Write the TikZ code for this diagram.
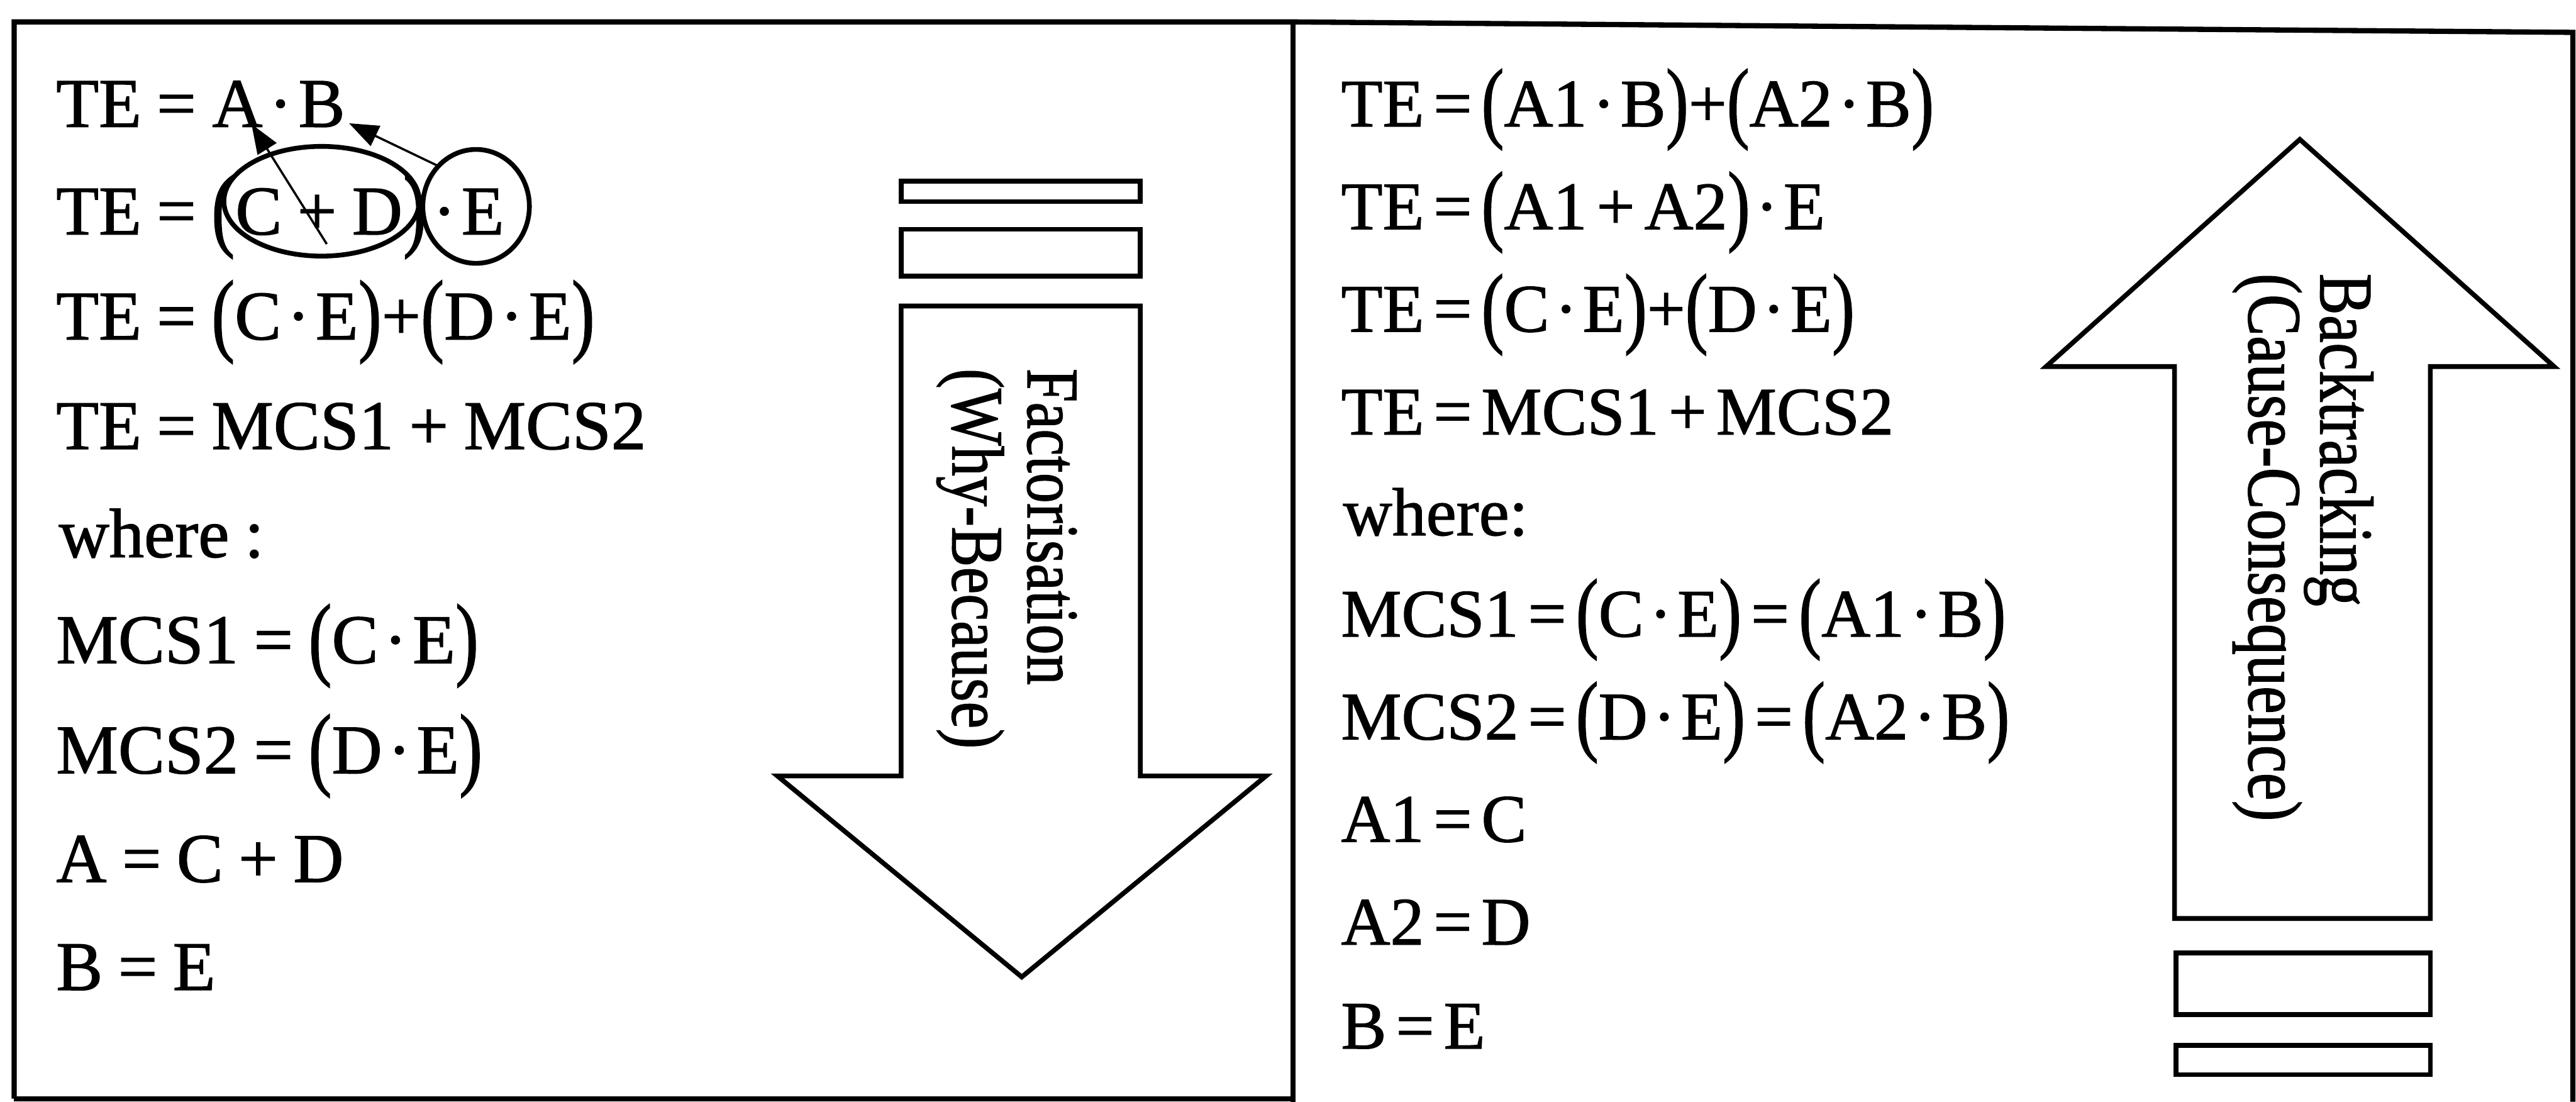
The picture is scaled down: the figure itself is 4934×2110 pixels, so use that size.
\documentclass[tikz,border=0pt]{standalone}
\usepackage{fontspec}
\setmainfont{Liberation Serif}[FakeBold=1.2]
\usepackage{graphicx}
\usetikzlibrary{arrows.meta,shapes.geometric}
\newcommand{\po}{\raisebox{-0.07em}{\scalebox{1}[1.32]{(}}}
\newcommand{\pc}{\raisebox{-0.07em}{\scalebox{1}[1.32]{)}}}
\newcommand{\md}{\kern0.08em·\kern0.08em}
\newcommand{\sq}{\kern0.22em}
\newcommand{\sr}{\kern0.14em}
\newcommand{\tall}[1]{\scalebox{1}[1.22]{#1}}
\begin{document}
\begin{tikzpicture}[x=0.01cm,y=-0.01cm,
  eqL/.style={anchor=base west,inner sep=0pt,font=\fontsize{38pt}{38pt}\selectfont},
  eqR/.style={anchor=base west,inner sep=0pt,font=\fontsize{37pt}{37pt}\selectfont},
  frame/.style={line width=2.85pt},
  bigarrow/.style={line width=2.6pt,line join=miter},
  ring/.style={line width=2.6pt},
  ptr/.style={line width=1.2pt,-{Triangle[length=16pt,width=12pt]}},
  lbl/.style={inner sep=0pt,rotate=-90,anchor=west,align=left}]
\useasboundingbox (0,0) rectangle (4934,2110);
% frame
\draw[frame] (27,2104) -- (27,42) -- (2477,42) -- (4928,62) -- (4928,2110);
\draw[frame] (2477,42) -- (2477,2110);
\draw[frame] (27,2104) -- (2477,2104);
% left panel equations
\node[eqL] (l1a) at (107,243) {TE\sq=\sq};
\node[eqL] (nA) at (l1a.base east) {A};
\node[eqL] (l1b) at (nA.base east) {\md};
\node[eqL] (nB) at (l1b.base east) {B};
\node[eqL] (l2a) at (107,449) {TE\sq=\sq\po};
\node[eqL] (nCD) at (l2a.base east) {C\sq+\sq D};
\node[eqL] (l2c) at (nCD.base east) {\pc};
\node[eqL] (nE) at (l2c.base east) {\md E};
\node[eqL] (l3) at (107,650) {TE\sq=\sq\po C\md E\pc+\po D\md E\pc};
\node[eqL] (l4) at (107,860) {TE\sq=\sq MCS1\sq+\sq MCS2};
\node[eqL] (l5) at (112,1067) {where\sq:};
\node[eqL] (l6) at (107,1270) {MCS1\sq=\sq\po C\md E\pc};
\node[eqL] (l7) at (107,1481) {MCS2\sq=\sq\po D\md E\pc};
\node[eqL] (l8) at (107,1689) {A\sq=\sq C\sq+\sq D};
\node[eqL] (l9) at (107,1896) {B\sq=\sq E};
% rings and pointers
\coordinate (cCD) at ([xshift=0.05cm,yshift=0.2cm]nCD.center);
\coordinate (cE) at ([xshift=0.2cm,yshift=0.1cm]nE.center);
\draw[ring] (cCD) ellipse [x radius=1.87cm,y radius=1.05cm];
\draw[ring] (cE) ellipse [x radius=1.02cm,y radius=1.09cm];
\draw[ptr] ([xshift=0.15cm,yshift=-0.62cm]nCD.center) -- ([xshift=-0.22cm,yshift=0.06cm]nA.south east);
\draw[ptr] ([xshift=-0.72cm,yshift=0.77cm]cE) -- ([xshift=0.07cm,yshift=0.08cm]nB.south east);
% left down arrow
\draw[bigarrow] (1726,347) rectangle (2184,386);
\draw[bigarrow] (1726,439) rectangle (2184,529);
\draw[bigarrow] (1726,586) -- (2184,586) -- (2184,1486) -- (2425,1486) -- (1957,1871) -- (1489,1486) -- (1726,1486) -- cycle;
\node[lbl,font=\fontsize{33pt}{41pt}\selectfont] (fact) at (1928,705) {\tall{Factorisation}\\\tall{(Why-Because)}};
% right panel equations
\node[eqR] (r1) at (2568,242) {TE\sr=\sr\po A1\md B\pc+\po A2\md B\pc};
\node[eqR] (r2) at (2568,439) {TE\sr=\sr\po A1\sr+\sr A2\pc\md E};
\node[eqR] (r3) at (2568,635) {TE\sr=\sr\po C\md E\pc+\po D\md E\pc};
\node[eqR] (r4) at (2568,832) {TE\sr=\sr MCS1\sr+\sr MCS2};
\node[eqR] (r5) at (2572,1025) {where:};
\node[eqR] (r6) at (2568,1219) {MCS1\sr=\sr\po C\md E\pc\sr=\sr\po A1\md B\pc};
\node[eqR] (r7) at (2568,1416) {MCS2\sr=\sr\po D\md E\pc\sr=\sr\po A2\md B\pc};
\node[eqR] (r8) at (2568,1612) {A1\sr=\sr C};
\node[eqR] (r9) at (2568,1809) {A2\sr=\sr D};
\node[eqR] (r10) at (2568,2008) {B\sr=\sr E};
% right up arrow
\draw[bigarrow] (4405,267) -- (4892,702) -- (4655,702) -- (4655,1759) -- (4165,1759) -- (4165,702) -- (3919,702) -- cycle;
\draw[bigarrow] (4168,1825) rectangle (4655,1943);
\draw[bigarrow] (4168,2002) rectangle (4655,2058);
\node[lbl,font=\fontsize{34pt}{39pt}\selectfont] (back) at (4411,523) {\tall{Backtracking}\\\tall{(Cause-Consequence)}};
\end{tikzpicture}
\end{document}
